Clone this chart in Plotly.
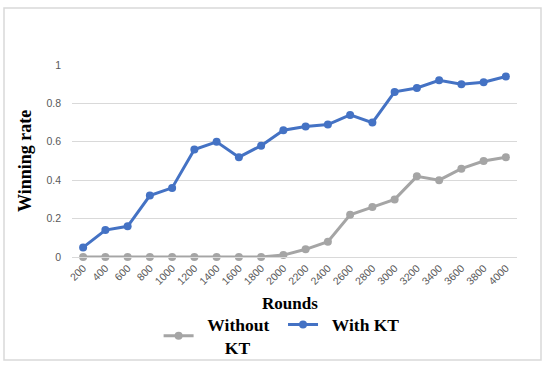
import plotly.graph_objects as go

rounds = [str(r) for r in range(200, 4001, 200)]
without_kt = [0, 0, 0, 0, 0, 0, 0, 0, 0, 0.01, 0.04, 0.08, 0.22, 0.26, 0.30, 0.42, 0.40, 0.46, 0.50, 0.52]
with_kt = [0.05, 0.14, 0.16, 0.32, 0.36, 0.56, 0.60, 0.52, 0.58, 0.66, 0.68, 0.69, 0.74, 0.70, 0.86, 0.88, 0.92, 0.90, 0.91, 0.94]
y_ticks = [0, 0.2, 0.4, 0.6, 0.8, 1]
y_tick_labels = ["0", "0.2", "0.4", "0.6", "0.8", "1"]

GRAY = "#A5A5A5"
BLUE = "#4472C4"
SERIF = "Liberation Serif"
NB = "\u00a0"

fig = go.Figure()
fig.add_trace(go.Scatter(
    x=rounds, y=without_kt, mode="lines+markers",
    name=NB * 2 + "Without" + NB * 2 + "<br>" + NB * 6 + "KT",
    line=dict(color=GRAY, width=3), marker=dict(color=GRAY, size=8),
    cliponaxis=False,
))
fig.add_trace(go.Scatter(
    x=rounds, y=with_kt, mode="lines+markers", name=NB * 2 + "With KT",
    line=dict(color=BLUE, width=3), marker=dict(color=BLUE, size=8),
    cliponaxis=False,
))

fig.update_layout(
    width=550, height=368,
    margin=dict(l=72, r=33, t=65, b=111, autoexpand=False),
    paper_bgcolor="white", plot_bgcolor="white",
    showlegend=True,
    legend=dict(
        orientation="h", xref="container", yref="container",
        x=0.512, xanchor="center", y=(368 - 336) / 368, yanchor="middle",
        font=dict(family=SERIF, size=17.5, color="black", weight="bold"),
        bgcolor="rgba(0,0,0,0)", itemwidth=30, tracegroupgap=0,
    ),
    xaxis=dict(
        type="category", range=[-0.5, len(rounds) - 0.5],
        showgrid=False, showline=True, linecolor="#D9D9D9", linewidth=1,
        tickangle=-45, tickfont=dict(family="Liberation Sans", size=10.5, color="#595959"),
        ticks="", zeroline=False, automargin=False,
    ),
    yaxis=dict(
        range=[0, 1], tickvals=y_ticks, ticktext=y_tick_labels,
        showgrid=True, gridcolor="#D9D9D9", gridwidth=1, zeroline=False,
        showline=False, ticks="", ticklabelstandoff=10, automargin=False,
        tickfont=dict(family="Liberation Sans", size=10.5, color="#595959"),
    ),
    shapes=[dict(
        type="rect", xref="paper", yref="paper",
        x0=(4 - 72) / 445, x1=(541 - 72) / 445,
        y0=(257 - 360) / 192, y1=(257 - 8) / 192,
        line=dict(color="#D9D9D9", width=1.5), fillcolor="rgba(0,0,0,0)", layer="below",
    )],
    annotations=[
        dict(text="Winning rate", xref="paper", yref="paper", x=(25 - 72) / 445, y=0.5,
             xanchor="center", yanchor="middle", textangle=-90, showarrow=False,
             font=dict(family=SERIF, size=18, color="black", weight="bold")),
        dict(text="Rounds", xref="paper", yref="paper", x=0.49, y=(257 - 303) / 192,
             xanchor="center", yanchor="middle", showarrow=False,
             font=dict(family=SERIF, size=17, color="black", weight="bold")),
    ],
)

fig.write_html(
    "out.html",
    config={"displayModeBar": False},
    post_script="document.body.style.margin='0';document.body.style.overflow='hidden';",
)
